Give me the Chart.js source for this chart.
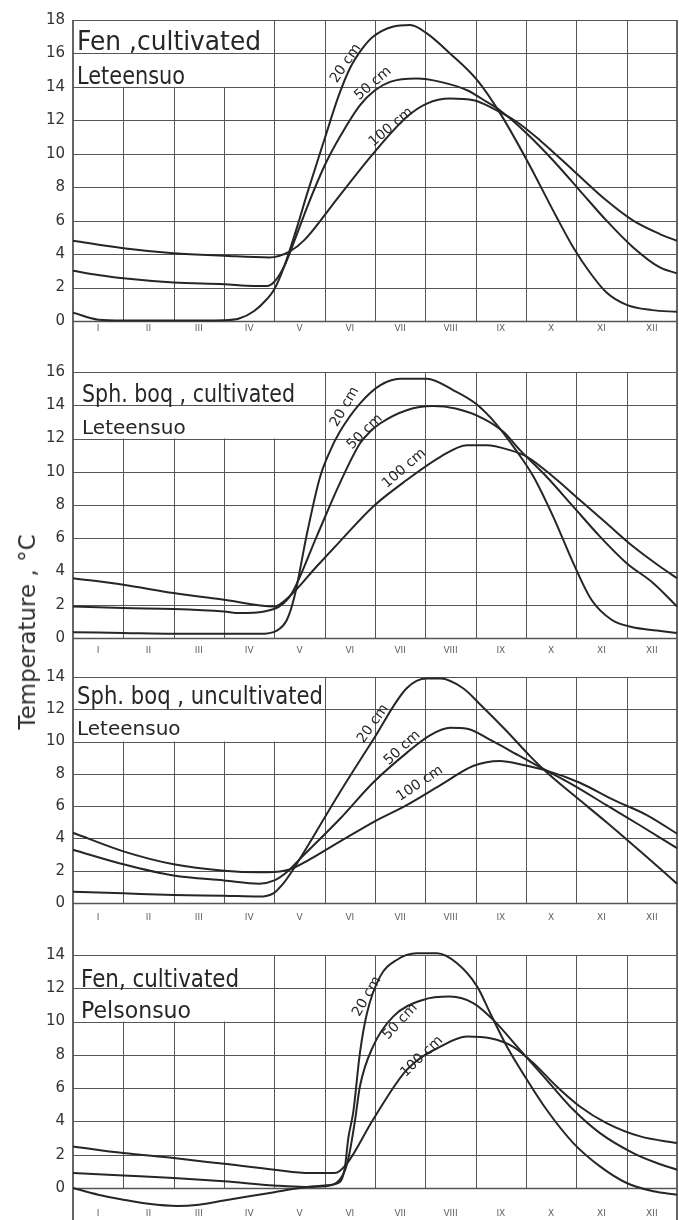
<!DOCTYPE html>
<html>
<head>
<meta charset="utf-8">
<script src="https://cdn.jsdelivr.net/npm/chart.js@4.4.1/dist/chart.umd.min.js"></script>
<style>
  html, body { margin: 0; padding: 0; background: #fff; }
  #page { position: relative; width: 679px; height: 1220px; overflow: hidden; background: #fff; }
  #page canvas { position: absolute; left: 0; }
  #ytitle {
    position: absolute; left: 27px; top: 632px;
    transform: translate(-50%, -50%) rotate(-90deg);
    font: 23px "DejaVu Sans", sans-serif; color: #2e2e2e; white-space: nowrap;
  }
</style>
</head>
<body>
<div id="page">
  <canvas id="c1" width="679" height="340" style="top:0px;width:679px;height:340px"></canvas>
  <canvas id="c2" width="679" height="320" style="top:340px;width:679px;height:320px"></canvas>
  <canvas id="c3" width="679" height="270" style="top:660px;width:679px;height:270px"></canvas>
  <canvas id="c4" width="679" height="290" style="top:930px;width:679px;height:290px"></canvas>
  <div id="ytitle">Temperature , °C</div>
</div>
<script>
const monthLabels = ["I", "II", "III", "IV", "V", "VI", "VII", "VIII", "IX", "X", "XI", "XII"];
const monthMids = [0.5, 1.5, 2.5, 3.5, 4.5, 5.5, 6.5, 7.5, 8.5, 9.5, 10.5, 11.5];
const depthLabels = ["20 cm", "50 cm", "100 cm"];

// [month position, temperature °C]
// Fen, cultivated - Leteensuo
const fenLet20 = [[0,0.5],[0.5,0.08],[1,0.03],[2,0.03],[3,0.05],[3.3,0.15],[3.6,0.6],[3.85,1.3],[4,1.9],[4.2,3.3],[4.45,5.6],[4.65,7.6],[5,10.9],[5.27,13.4],[5.5,15.1],[5.75,16.3],[5.96,17],[6.35,17.6],[6.7,17.7],[7.03,17.2],[7.49,16],[8.03,14.4],[8.49,12.4],[9.02,9.6],[9.61,6.2],[9.94,4.4],[10.27,2.9],[10.6,1.7],[11,0.96],[11.5,0.65],[12,0.55]];
const fenLet50 = [[0,3],[0.5,2.75],[1,2.55],[2,2.3],[3,2.2],[3.6,2.1],[3.85,2.1],[4,2.35],[4.2,3.3],[4.4,4.8],[4.65,6.8],[5,9.3],[5.3,11],[5.7,12.9],[6,13.8],[6.3,14.3],[6.83,14.5],[7.3,14.3],[7.83,13.8],[8.22,13.1],[8.48,12.6],[9.02,11.2],[9.54,9.6],[10.07,7.8],[10.6,6],[11.13,4.4],[11.66,3.2],[12,2.85]];
const fenLet100 = [[0,4.8],[1,4.35],[2,4.05],[3,3.9],[3.9,3.8],[4.3,4.15],[4.6,4.85],[5.27,7.4],[5.96,10],[6.63,12.2],[7.03,13],[7.49,13.3],[7.96,13.2],[8.35,12.7],[8.82,11.9],[9.28,10.8],[9.94,9],[10.6,7.2],[11.13,6],[11.66,5.2],[12,4.8]];

// Sph. boq, cultivated - Leteensuo
const sphCul20 = [[0,0.35],[1,0.3],[2,0.25],[3,0.25],[3.7,0.25],[4.05,0.45],[4.25,1.1],[4.4,2.5],[4.65,6.3],[4.9,9.6],[5.1,11.2],[5.3,12.4],[5.7,14.1],[6.1,15.2],[6.5,15.6],[7.03,15.6],[7.56,14.9],[8,14.1],[8.4,12.9],[8.8,11.3],[9.15,9.7],[9.54,7.3],[9.94,4.5],[10.3,2.3],[10.7,1.1],[11.1,0.66],[11.6,0.45],[12,0.3]];
const sphCul50 = [[0,1.9],[1,1.8],[2,1.75],[3,1.6],[3.3,1.5],[3.8,1.6],[4.1,1.9],[4.35,2.7],[4.84,6.1],[5.3,9.3],[5.7,11.7],[5.9,12.4],[6.1,12.9],[6.63,13.7],[7.15,13.95],[7.6,13.8],[8.15,13.2],[8.55,12.4],[8.88,11.3],[9.41,9.7],[9.94,7.9],[10.47,6.1],[11,4.5],[11.53,3.3],[12,1.9]];
const sphCul100 = [[0,3.6],[1,3.2],[2,2.7],[3,2.3],[4,1.9],[4.3,2.5],[4.84,4.3],[5.3,5.8],[5.96,7.9],[6.63,9.5],[7.3,10.9],[7.83,11.6],[8.22,11.6],[8.68,11.3],[9.02,10.9],[9.54,9.7],[10.07,8.3],[10.6,6.9],[11.13,5.5],[11.66,4.3],[12,3.6]];

// Sph. boq, uncultivated - Leteensuo
const sphUnc20 = [[0,0.7],[1,0.6],[2,0.5],[3,0.45],[3.7,0.4],[3.98,0.6],[4.2,1.3],[4.4,2.2],[5.3,6.85],[5.96,10.1],[6.63,13.3],[7.03,13.9],[7.3,13.9],[7.75,13.3],[8.09,12.3],[8.6,10.7],[9.08,9.1],[9.41,8.1],[9.94,6.7],[10.6,5],[11.27,3.2],[12,1.2]];
const sphUnc50 = [[0,3.3],[1,2.4],[2,1.7],[3,1.4],[3.7,1.2],[4,1.4],[4.28,2],[4.5,2.7],[5.3,5.2],[5.96,7.45],[6.63,9.3],[7.1,10.4],[7.5,10.85],[7.83,10.8],[8.29,10.1],[8.88,9.1],[9.41,8.2],[9.94,7.3],[10.6,6.06],[11.27,4.8],[12,3.4]];
const sphUnc100 = [[0,4.35],[1,3.2],[2,2.4],[3,2],[3.7,1.9],[4.2,2],[4.4,2.2],[5.3,3.8],[5.96,5],[6.63,6.06],[7.3,7.3],[7.96,8.5],[8.48,8.8],[8.95,8.55],[9.41,8.2],[10.07,7.45],[10.73,6.4],[11.4,5.45],[12,4.3]];

// Fen, cultivated - Pelsonsuo
const fenPel20 = [[0,0],[0.5,-0.4],[1,-0.7],[1.5,-0.95],[2.07,-1.08],[2.5,-1],[3,-0.75],[3.5,-0.5],[4,-0.25],[4.5,0],[5,0.15],[5.3,0.35],[5.4,1.2],[5.47,3],[5.57,4.6],[5.7,8.1],[5.84,10.5],[6.1,12.7],[6.43,13.7],[6.83,14.1],[7.23,14.1],[7.63,13.5],[8.03,12.1],[8.29,10.5],[8.62,8.5],[9.02,6.5],[9.41,4.7],[9.94,2.7],[10.47,1.3],[11,0.3],[11.53,-0.2],[12,-0.4]];
const fenPel50 = [[0,0.9],[1,0.75],[2,0.6],[3,0.4],[4,0.15],[4.6,0.06],[5,0.1],[5.3,0.5],[5.42,1.2],[5.5,2.2],[5.6,4],[5.7,6.1],[5.96,8.5],[6.36,10.3],[6.95,11.3],[7.49,11.5],[7.96,11.1],[8.35,10.1],[8.88,8.3],[9.41,6.5],[9.94,4.7],[10.47,3.3],[11.13,2.1],[11.6,1.5],[12,1.1]];
const fenPel100 = [[0,2.5],[1,2.1],[2,1.8],[3,1.45],[4,1.1],[4.7,0.9],[5.2,0.9],[5.45,1.5],[5.96,4.1],[6.63,7.1],[7.3,8.5],[7.83,9.1],[8.29,9],[8.74,8.5],[9.15,7.5],[9.61,6.1],[10.07,4.9],[10.6,3.9],[11.27,3.1],[12,2.7]];

const panels = [
  { id: "c1", series: [fenLet20, fenLet50, fenLet100], yMax: 18, padTop: 20, axisH: 19, tickPad: 2,
    box: { toM: 3.8, bottomV: 14 }, frameFromTop: false,
    titles: [{ text: "Fen ,cultivated", m: 0.08, v: 16.2, size: 27, maxW: 184 },
             { text: "Leteensuo", m: 0.08, v: 14.2, size: 24, maxW: 108 }],
    tags: [[5.42, 15.4, -56], [5.96, 14.2, -41], [6.32, 11.6, -40]] },
  { id: "c2", series: [sphCul20, sphCul50, sphCul100], yMax: 16, padTop: 32, axisH: 22, tickPad: 7,
    box: { toM: 4.5, bottomV: 12 }, frameFromTop: true,
    titles: [{ text: "Sph. boq , cultivated", m: 0.18, v: 14.2, size: 24, maxW: 213 },
             { text: "Leteensuo", m: 0.18, v: 12.3, size: 20, maxW: 110 }],
    tags: [[5.4, 13.9, -60], [5.8, 12.4, -45], [6.58, 10.2, -41]] },
  { id: "c3", series: [sphUnc20, sphUnc50, sphUnc100], yMax: 14, padTop: 12, axisH: 27, tickPad: 9,
    box: { toM: 5, bottomV: 10 }, frameFromTop: true,
    titles: [{ text: "Sph. boq , uncultivated", m: 0.08, v: 12.3, size: 24, maxW: 246 },
             { text: "Leteensuo", m: 0.08, v: 10.4, size: 20, maxW: 113 }],
    tags: [[5.96, 11.1, -55], [6.54, 9.6, -43], [6.89, 7.4, -34]] },
  { id: "c4", series: [fenPel20, fenPel50, fenPel100], yMax: 14, padTop: 25, axisH: 32, tickPad: 20,
    box: { toM: 3.5, bottomV: 10 }, frameFromTop: true,
    titles: [{ text: "Fen, cultivated", m: 0.16, v: 12.1, size: 25, maxW: 158 },
             { text: "Pelsonsuo", m: 0.16, v: 10.2, size: 23, maxW: 110 }],
    tags: [[5.84, 11.5, -60], [6.5, 10.0, -47], [6.93, 7.9, -44]] }
];

const ink = "#262626";
const gridInk = "#555";

// hand-ruled grid, frame, panel titles and depth tags
const paperPlugin = {
  id: "paper",
  beforeDatasetsDraw(chart, args, opts) {
    const { ctx, chartArea: { left, right, top, bottom }, scales: { x, y } } = chart;
    ctx.save();
    ctx.strokeStyle = gridInk;
    for (let v = 0; v <= y.max; v += 2) {
      const py = Math.round(y.getPixelForValue(v)) + 0.5;
      ctx.lineWidth = v === 0 ? 1.6 : 1;
      ctx.beginPath(); ctx.moveTo(left, py); ctx.lineTo(right, py); ctx.stroke();
    }
    ctx.lineWidth = 1;
    for (let m = 1; m < 12; m++) {
      const px = Math.round(x.getPixelForValue(m)) + 0.5;
      const y0 = m < opts.box.toM ? y.getPixelForValue(opts.box.bottomV) : top;
      ctx.beginPath(); ctx.moveTo(px, y0); ctx.lineTo(px, bottom); ctx.stroke();
    }
    ctx.lineWidth = 1.8;
    const fy = opts.frameFromTop ? 0 : top;
    [left, right].forEach(px => {
      ctx.beginPath(); ctx.moveTo(px, fy); ctx.lineTo(px, chart.height); ctx.stroke();
    });
    ctx.restore();
  },
  afterDatasetsDraw(chart, args, opts) {
    const { ctx, scales: { x, y } } = chart;
    ctx.save();
    ctx.fillStyle = ink;
    ctx.textAlign = "left";
    ctx.textBaseline = "alphabetic";
    opts.titles.forEach(t => {
      ctx.font = t.size + 'px "DejaVu Sans", sans-serif';
      ctx.fillText(t.text, x.getPixelForValue(t.m), y.getPixelForValue(t.v), t.maxW);
    });
    ctx.font = '14px "DejaVu Sans", sans-serif';
    ctx.textAlign = "center";
    ctx.textBaseline = "middle";
    opts.tags.forEach((t, i) => {
      ctx.save();
      ctx.translate(x.getPixelForValue(t[0]), y.getPixelForValue(t[1]));
      ctx.rotate(t[2] * Math.PI / 180);
      ctx.fillText(depthLabels[i], 0, 0);
      ctx.restore();
    });
    ctx.restore();
  }
};

panels.forEach(p => {
  const ctx = document.getElementById(p.id).getContext("2d");
  new Chart(ctx, {
    type: "line",
    data: {
      datasets: p.series.map((s, i) => ({
        label: depthLabels[i],
        data: s.map(pt => ({ x: pt[0], y: pt[1] })),
        borderColor: ink,
        borderWidth: 2,
        pointRadius: 0,
        fill: false,
        cubicInterpolationMode: "monotone",
        clip: false
      }))
    },
    options: {
      responsive: false,
      animation: false,
      devicePixelRatio: 1,
      layout: { padding: { top: p.padTop, right: 2, left: 0, bottom: 0 } },
      scales: {
        x: {
          type: "linear", min: 0, max: 12,
          grid: { display: false, drawTicks: false },
          border: { display: false },
          afterBuildTicks: axis => { axis.ticks = monthMids.map(v => ({ value: v })); },
          afterFit: axis => { axis.height = p.axisH; },
          ticks: {
            autoSkip: false, maxRotation: 0, padding: p.tickPad,
            color: "#5e5e5e", font: { family: "DejaVu Sans", size: 9 },
            callback: (v, i) => monthLabels[i]
          }
        },
        y: {
          min: 0, max: p.yMax,
          grid: { display: false, drawTicks: false },
          border: { display: false },
          afterFit: axis => { axis.width = 73; },
          ticks: {
            stepSize: 2, padding: 8,
            color: "#333", font: { family: "DejaVu Sans", size: 15 }
          }
        }
      },
      plugins: {
        legend: { display: false },
        tooltip: { enabled: false },
        paper: { box: p.box, frameFromTop: p.frameFromTop, titles: p.titles, tags: p.tags }
      }
    },
    plugins: [paperPlugin]
  });
});
</script>
</body>
</html>
